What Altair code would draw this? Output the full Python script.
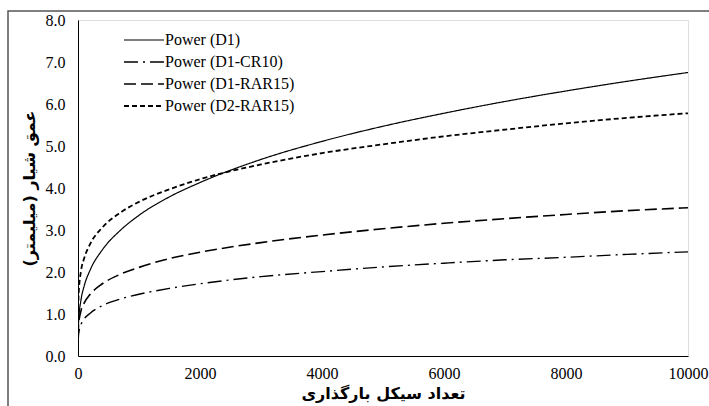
import altair as alt
import pandas as pd

cycles = [1, 10, 50, 100, 200, 400, 700, 1000, 1500, 2000, 3000, 4000, 5000, 6000, 7000, 8000, 9000, 10000]
d1 = [0.41, 0.82, 1.34, 1.66, 2.05, 2.53, 3.00, 3.35, 3.79, 4.13, 4.68, 5.11, 5.47, 5.78, 6.06, 6.31, 6.54, 6.75]
d1_cr10 = [0.31, 0.52, 0.75, 0.88, 1.02, 1.20, 1.36, 1.47, 1.61, 1.72, 1.89, 2.01, 2.12, 2.21, 2.29, 2.35, 2.42, 2.48]
d1_rar15 = [0.45, 0.75, 1.08, 1.26, 1.47, 1.72, 1.95, 2.11, 2.32, 2.47, 2.70, 2.88, 3.03, 3.16, 3.27, 3.37, 3.46, 3.53]
d2_rar15 = [0.93, 1.47, 2.03, 2.32, 2.67, 3.06, 3.42, 3.67, 3.97, 4.21, 4.56, 4.83, 5.04, 5.23, 5.39, 5.54, 5.67, 5.78]

series_names = ["Power (D1)", "Power (D1-CR10)", "Power (D1-RAR15)", "Power (D2-RAR15)"]
series_vals = [d1, d1_cr10, d1_rar15, d2_rar15]

rows = []
for name, vals in zip(series_names, series_vals):
    for c, v in zip(cycles, vals):
        rows.append({"cycles": c, "depth": v, "series": name})
df = pd.DataFrame(rows)

serif = "Times New Roman, Liberation Serif, serif"
fa_font = "DejaVu Sans"

legend = alt.Legend(orient="none", legendX=55, legendY=9, title=None,
                    symbolType="M-2,0L2,0", symbolSize=400, symbolStrokeColor="black",
                    symbolFillColor="transparent",
                    labelFont=serif, labelFontSize=16, labelColor="black", labelOffset=10,
                    rowPadding=3, padding=0)

lines = alt.Chart(df).mark_line(interpolate="monotone", clip=True).encode(
    x=alt.X("cycles:Q",
            scale=alt.Scale(domain=[0, 10000], nice=False),
            axis=alt.Axis(values=[0, 2000, 4000, 6000, 8000, 10000], title="تعداد سیکل بارگذاری",
                          grid=False, ticks=False, labelPadding=9, format="d", labelFlush=False,
                          labelFont=serif, labelFontSize=16, labelColor="black",
                          titleFont=fa_font, titleFontSize=16, titleFontWeight="bold",
                          titleColor="black", titlePadding=4, domainColor="black")),
    y=alt.Y("depth:Q",
            scale=alt.Scale(domain=[0, 8], nice=False),
            axis=alt.Axis(values=[0, 1, 2, 3, 4, 5, 6, 7, 8], format=".1f", title="عمق شیار (میلیمتر)",
                          grid=False, ticks=False, labelPadding=13, labelFlush=False,
                          labelFont=serif, labelFontSize=16, labelColor="black",
                          titleFont=fa_font, titleFontSize=16, titleFontWeight="bold",
                          titleColor="black", titlePadding=8, domainColor="black")),
    color=alt.Color("series:N", legend=legend,
                    scale=alt.Scale(domain=series_names, range=["black"] * 4)),
    strokeDash=alt.StrokeDash("series:N", legend=legend,
                              scale=alt.Scale(domain=series_names,
                                              range=[[1, 0], [14, 5, 2, 5], [12, 5], [5, 3]])),
    strokeWidth=alt.StrokeWidth("series:N", legend=legend,
                                scale=alt.Scale(domain=series_names, range=[1.2, 1.8, 2.0, 2.0])),
)

frame = alt.Chart(pd.DataFrame({"k": [0]})).mark_rect(
    fill=None, stroke="#555555", strokeWidth=1.5, clip=False
).encode(x=alt.value(-70), x2=alt.value(660), y=alt.value(-9), y2=alt.value(420))

chart = alt.layer(frame, lines).properties(
    width=610, height=336,
    padding={"left": 78, "top": 20, "right": 21, "bottom": 50},
    autosize=alt.AutoSizeParams(type="none"),
).configure_view(
    stroke="black", strokeWidth=1
).configure(background="white")

chart.save("out.html", embed_options={"renderer": "svg", "actions": False})
